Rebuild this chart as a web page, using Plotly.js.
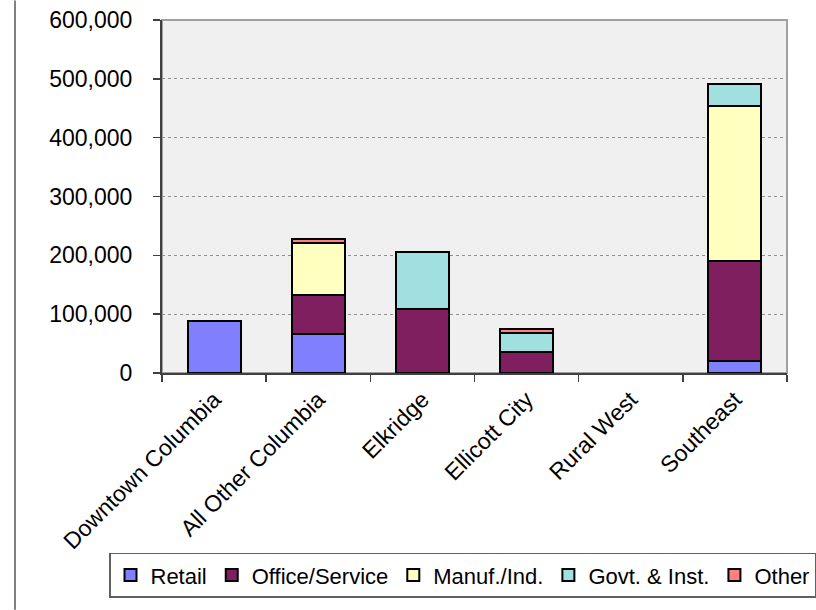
<!DOCTYPE html>
<html>
<head>
<meta charset="utf-8">
<script src="https://cdn.plot.ly/plotly-3.0.1.min.js"></script>
<style>
html,body{margin:0;padding:0;background:#fff;}
#chart{width:816px;height:610px;}
</style>
</head>
<body>
<div id="chart"></div>
<script>
var categories = ["Downtown Columbia", "All Other Columbia", "Elkridge", "Ellicott City", "Rural West", "Southeast"];
var retail   = [89000, 66000, 0, 0, 0, 21000];
var office   = [0, 66000, 108000, 36000, 0, 169000];
var manuf    = [0, 89000, 1500, 0, 0, 264000];
var govt     = [0, 0, 97000, 32000, 0, 37000];
var other    = [0, 7500, 0, 6500, 0, 0];
var seriesNames = ["Retail", "Office/Service", "Manuf./Ind.", "Govt. & Inst.", "Other"];
var seriesColors = ["#8080ff", "#7f1f5f", "#ffffc0", "#a0e0e0", "#ff8080"];
var yTicks = [0, 100000, 200000, 300000, 400000, 500000, 600000];

var allSeries = [retail, office, manuf, govt, other];
var traces = allSeries.map(function(vals, i){
  return {
    type: "bar",
    name: seriesNames[i],
    x: categories,
    y: vals.map(function(v){ return v === 0 ? null : v; }),
    marker: {color: seriesColors[i], line: {color: "#000000", width: 2}},
    hoverinfo: "x+y+name"
  };
});

var W = 816, H = 610, L = 162, R = 787, T = 19.5, B = 373;
var pw = R - L, ph = B - T;
function px(x){ return (x - L) / pw; }
function py(y){ return (B - y) / ph; }

var layout = {
  width: W, height: H,
  margin: {l: L, r: W - R, t: T, b: H - B, pad: 0},
  paper_bgcolor: "#ffffff",
  plot_bgcolor: "#f0f0f0",
  barmode: "stack",
  bargap: 0.49,
  font: {family: "Liberation Sans, Arial, sans-serif", size: 23, color: "#000000"},
  showlegend: true,
  legend: {
    orientation: "h",
    x: px(114), y: py(553), xanchor: "left", yanchor: "top",
    bordercolor: "#606060", borderwidth: 1.5,
    bgcolor: "#ffffff",
    font: {size: 22},
    itemwidth: 30,
    traceorder: "normal"
  },
  xaxis: {
    type: "category",
    tickangle: -45,
    tickson: "boundaries",
    ticks: "outside", ticklen: 7, tickcolor: "#404040", tickwidth: 1.5,
    showline: true, linecolor: "#404040", linewidth: 2,
    showgrid: false, zeroline: false,
    ticklabelstandoff: 2,
    tickfont: {size: 23}
  },
  yaxis: {
    range: [0, 600000],
    tickvals: yTicks,
    tickformat: ",d",
    ticks: "outside", ticklen: 7, tickcolor: "#404040", tickwidth: 1.5,
    showline: true, linecolor: "#404040", linewidth: 2,
    showgrid: true, gridcolor: "#909090", griddash: "dot", gridwidth: 1,
    zeroline: false,
    ticklabelstandoff: 16,
    tickfont: {size: 23}
  },
  shapes: [
    {type: "rect", xref: "paper", yref: "paper", x0: 0, x1: 1, y0: 0, y1: 1,
     line: {color: "#a0a0a0", width: 2}, layer: "below"},
    {type: "line", xref: "paper", yref: "paper", x0: px(15), x1: px(15), y0: py(610), y1: py(0),
     line: {color: "#808080", width: 2}}
  ]
};

Plotly.newPlot("chart", traces, layout, {displayModeBar: false, staticPlot: true});
</script>
</body>
</html>
